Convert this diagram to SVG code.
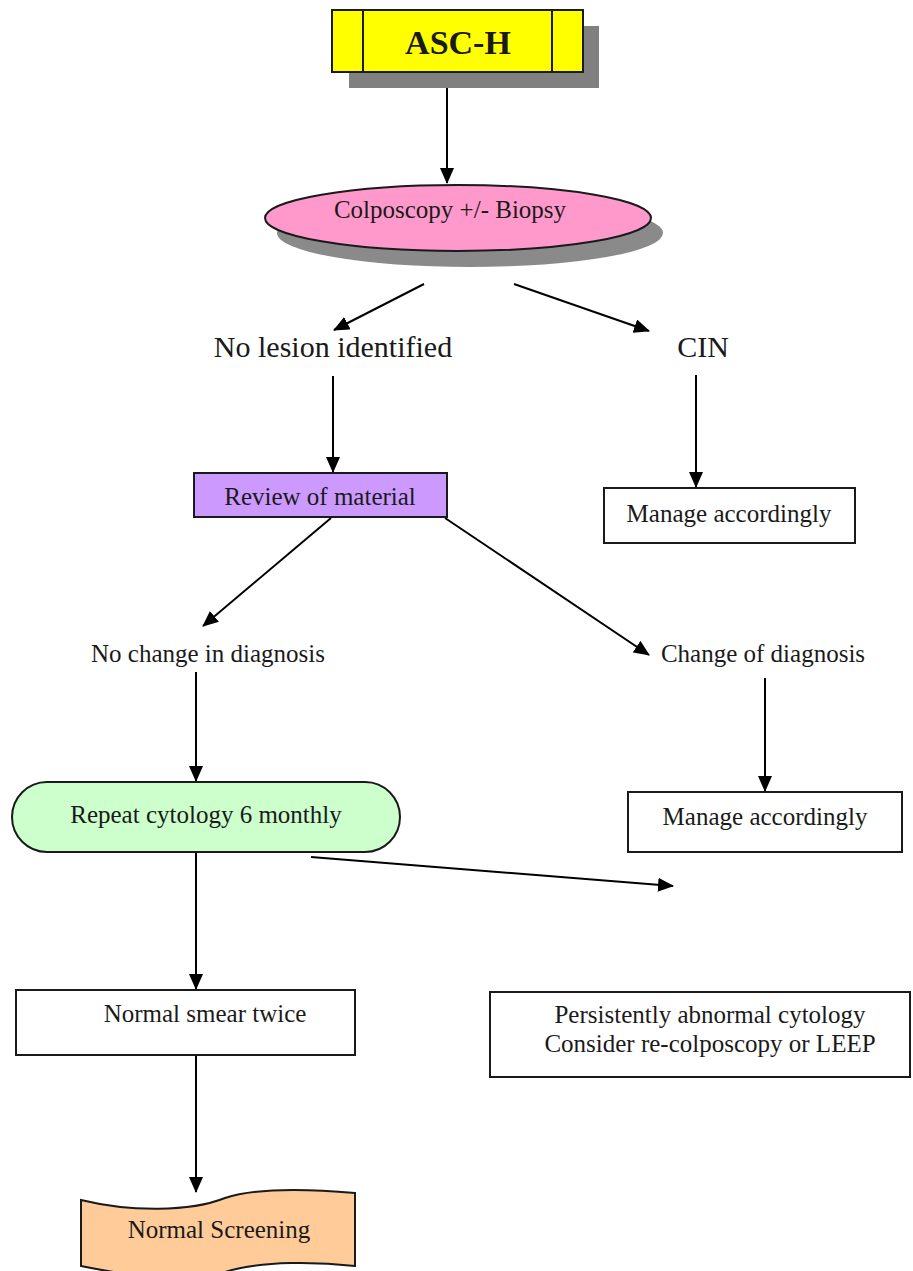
<svg xmlns="http://www.w3.org/2000/svg" width="913" height="1271" viewBox="0 0 913 1271">
<style>
text{font-family:"Liberation Serif","Times New Roman",serif;fill:#1a1a1a;text-anchor:middle}
.lbl{font-size:25px}
.big{font-size:30px}
.box{stroke:#1a1a1a;stroke-width:2}
.edge{stroke:#000;stroke-width:2;fill:none;marker-end:url(#ah)}
</style>
<defs>
<marker id="ah" viewBox="0 0 16 14" refX="15" refY="7" markerWidth="16" markerHeight="14" markerUnits="userSpaceOnUse" orient="auto">
<path d="M0,0 L16,7 L0,14 Z" fill="#000"/>
</marker>
</defs>
<g id="connectors">
<line class="edge" x1="447" y1="88" x2="447" y2="183"/>
<line class="edge" x1="424" y1="284" x2="334" y2="330"/>
<line class="edge" x1="514" y1="284" x2="649" y2="331"/>
<line class="edge" x1="333" y1="376" x2="333" y2="472"/>
<line class="edge" x1="696" y1="375" x2="696" y2="487"/>
<line class="edge" x1="331" y1="518" x2="203" y2="626"/>
<line class="edge" x1="445" y1="518" x2="649" y2="655"/>
<line class="edge" x1="196" y1="672" x2="196" y2="781"/>
<line class="edge" x1="765" y1="678" x2="765" y2="791"/>
<line class="edge" x1="196" y1="852" x2="196" y2="989"/>
<line class="edge" x1="311" y1="857" x2="673" y2="886"/>
<line class="edge" x1="196" y1="1055" x2="196" y2="1192"/>
</g>
<g id="asch">
<rect x="349" y="26" width="250" height="62" fill="#808080"/>
<rect class="box" x="332" y="10" width="251" height="62" fill="#ffff00"/>
<line class="box" x1="363" y1="10" x2="363" y2="72"/>
<line class="box" x1="552" y1="10" x2="552" y2="72"/>
<text x="458" y="54" style="font-size:34px;font-weight:bold">ASC-H</text>
</g>
<g id="colposcopy">
<ellipse cx="470" cy="233" rx="193" ry="34" fill="#8a8a8a"/>
<ellipse class="box" cx="458" cy="218" rx="193" ry="33" fill="#ff99cc"/>
<text class="lbl" x="450" y="218">Colposcopy +/- Biopsy</text>
</g>
<g id="nolesion">
<text class="big" x="333" y="357">No lesion identified</text>
</g>
<g id="cin">
<text class="big" x="703" y="357">CIN</text>
</g>
<g id="review">
<rect class="box" x="194" y="473" width="253" height="44" fill="#cc99ff"/>
<text class="lbl" x="320" y="505">Review of material</text>
</g>
<g id="manage1">
<rect class="box" x="604" y="488" width="251" height="55" fill="#fff"/>
<text class="lbl" x="729" y="522">Manage accordingly</text>
</g>
<g id="nochange">
<text class="lbl" x="208" y="662">No change in diagnosis</text>
</g>
<g id="change">
<text class="lbl" x="763" y="662">Change of diagnosis</text>
</g>
<g id="repeat">
<rect class="box" x="12" y="782" width="388" height="70" rx="35" ry="35" fill="#ccffcc"/>
<text class="lbl" x="206" y="823">Repeat cytology 6 monthly</text>
</g>
<g id="manage2">
<rect class="box" x="628" y="792" width="274" height="60" fill="#fff"/>
<text class="lbl" x="765" y="825">Manage accordingly</text>
</g>
<g id="normalsmear">
<rect class="box" x="16" y="990" width="339" height="65" fill="#fff"/>
<text class="lbl" x="205" y="1022">Normal smear twice</text>
</g>
<g id="persistent">
<rect class="box" x="490" y="992" width="420" height="85" fill="#fff"/>
<text class="lbl" x="710" y="1023">Persistently abnormal cytology</text>
<text class="lbl" x="710" y="1052">Consider re-colposcopy or LEEP</text>
</g>
<g id="normalscreening">
<path class="box" d="M81,1200 C130,1212 190,1212 225,1198 C262,1186 320,1190 355,1193 L355,1266 C320,1262 262,1260 225,1272 C190,1284 130,1276 81,1266 Z" fill="#ffcc99"/>
<text class="lbl" x="219" y="1238">Normal Screening</text>
</g>
</svg>
